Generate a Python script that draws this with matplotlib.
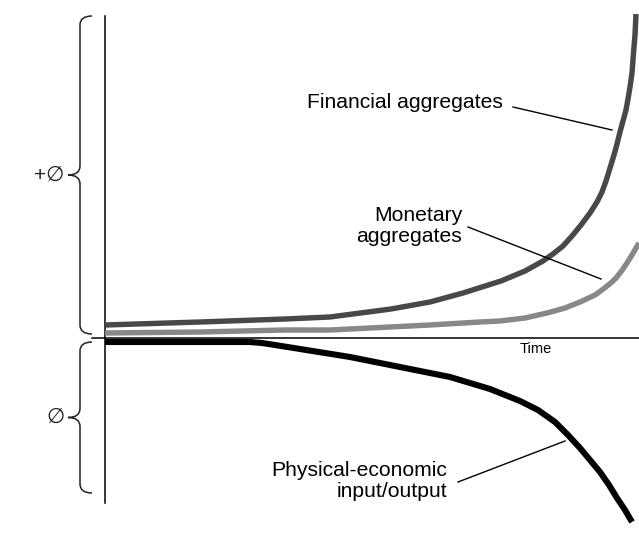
import numpy as np
import matplotlib.pyplot as plt
from matplotlib.path import Path
from matplotlib.patches import PathPatch

# curves (pixel coordinates, y downwards)
fin_x = [105, 200, 285, 330, 391, 430, 463, 501, 525, 543, 553, 563, 572, 581, 590, 597, 602, 606,
         610, 614, 617, 620, 623, 626, 628, 630, 632, 633, 634, 635, 636]
fin_y = [325, 322, 319, 317, 309, 302, 293, 281, 271, 261, 254, 246, 236, 225, 213, 202, 192, 181,
         168, 155, 144, 132, 121, 110, 99, 87, 73, 60, 47, 35, 14]

mon_x = [105, 200, 285, 330, 430, 480, 500, 525, 547, 565, 580, 595, 602, 607, 612, 616, 620, 623,
         627, 632, 636, 639]
mon_y = [333, 332, 330, 330, 325, 322, 321, 318, 313, 308, 302, 295, 290, 286, 282, 278, 273, 269,
         263, 255, 248, 243]

phy_x = [105, 250, 262, 275, 300, 350, 400, 450, 490, 520, 538, 555, 568, 580, 590, 600, 609, 617,
         625, 632]
phy_y = [342, 342, 343, 345, 349, 357, 367, 377, 389, 401, 410, 422, 435, 448, 460, 472, 485, 498,
         510, 522]

fig = plt.figure(figsize=(6.39, 5.45), dpi=100)
ax = fig.add_axes([0, 0, 1, 1])
ax.set_xlim(0, 639)
ax.set_ylim(545, 0)
ax.axis('off')

fam = ['Liberation Sans', 'DejaVu Sans']

# axes
ax.plot([105, 105], [16, 503], color='black', lw=1.1)
ax.plot([92, 639], [338, 338], color='black', lw=1.1)

ax.plot(fin_x, fin_y, color='#484848', lw=3.9, solid_capstyle='butt', solid_joinstyle='round')
ax.plot(mon_x, mon_y, color='#888888', lw=3.9, solid_capstyle='butt', solid_joinstyle='round')
ax.plot(phy_x, phy_y, color='black', lw=4.4, solid_capstyle='butt', solid_joinstyle='round')

def brace(x, y0, y1, d, w, r):
    ym = (y0 + y1) / 2
    verts = [(x + w, y0), (x, y0), (x, y0 + r),
             (x, ym - r), (x, ym), (x - d, ym),
             (x, ym), (x, ym + r),
             (x, y1 - r), (x, y1), (x + w, y1)]
    codes = [Path.MOVETO, Path.CURVE3, Path.CURVE3,
             Path.LINETO, Path.CURVE3, Path.CURVE3,
             Path.CURVE3, Path.CURVE3,
             Path.LINETO, Path.CURVE3, Path.CURVE3]
    ax.add_patch(PathPatch(Path(verts, codes), fill=False, lw=1.1, color='#222222'))

brace(80, 16, 334, 12, 12, 9)
brace(80, 342, 493, 12, 12, 9)

ax.text(49, 175, '+∅', fontsize=15, family=fam, ha='center', va='center', color='#222222')
ax.text(55, 417, '∅', fontsize=15, family=fam, ha='center', va='center', color='#222222')

ax.text(307, 103, 'Financial aggregates', fontsize=15.2, family=fam, ha='left', va='center')
ax.plot([513, 612], [107, 130], color='black', lw=1)

ax.text(462, 226, 'Monetary\naggregates', fontsize=15.2, family=fam, ha='right', va='center',
        linespacing=1.1)
ax.plot([468, 601], [227, 279], color='black', lw=1)

ax.text(447, 481, 'Physical-economic\ninput/output', fontsize=15.2, family=fam, ha='right',
        va='center', linespacing=1.1)
ax.plot([458, 565], [482, 441], color='black', lw=1)

ax.text(536, 349, 'Time', fontsize=10.5, family=fam, ha='center', va='center')

fig.savefig('out.png', dpi=100)
